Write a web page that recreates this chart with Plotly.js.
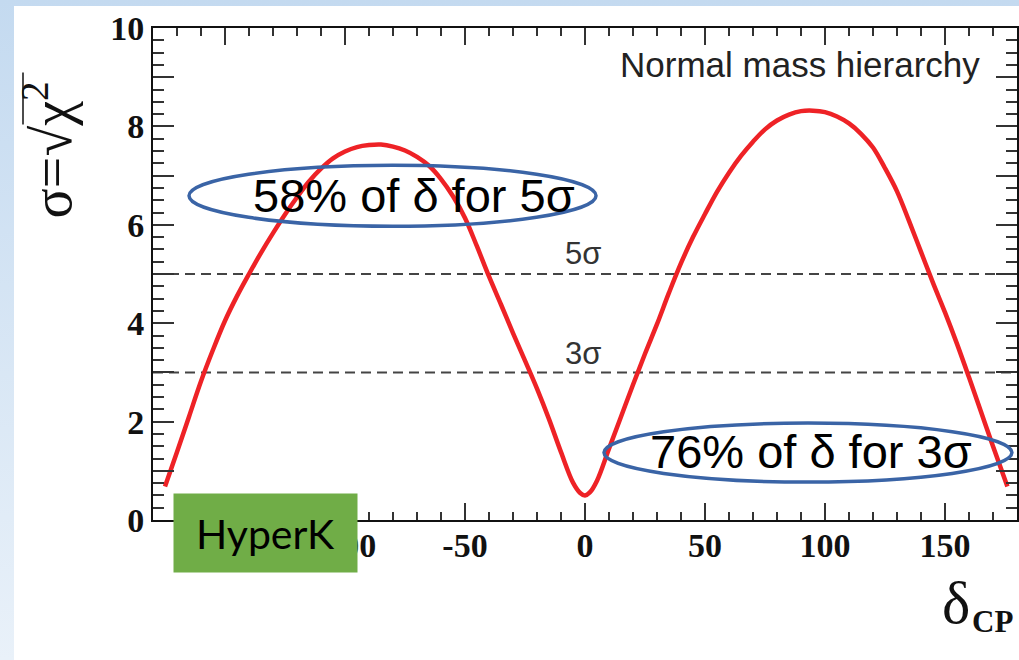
<!DOCTYPE html>
<html><head><meta charset="utf-8">
<script src="https://cdn.plot.ly/plotly-3.0.1.min.js"></script>
<style>
html,body{margin:0;padding:0;width:1019px;height:660px;overflow:hidden;background:linear-gradient(to bottom,#c4daf0,#e9f1f9);}
#chart{position:absolute;left:14px;top:6px;width:1005px;height:654px;background:#fff;}
</style></head><body><div id="chart"></div>
<script>
// Data
const deltaCP = [-175,-170,-165,-160,-155,-150,-145,-140,-135,-130,-125,-120,-115,-110,-105,-100,-95,-90,-85,-80,-75,-70,-65,-60,-55,-50,-45,-40,-35,-30,-25,-20,-15,-10,-5,-2,0,2,5,10,15,20,25,30,35,40,45,50,55,60,65,70,75,80,85,90,95,100,105,110,115,120,125,130,135,140,145,150,155,160,165,170,176];
const sigma   = [0.68,1.38,2.1,2.82,3.46,4.05,4.55,5.0,5.43,5.83,6.21,6.56,6.88,7.14,7.35,7.49,7.58,7.62,7.63,7.59,7.51,7.38,7.2,6.93,6.58,6.14,5.56,4.95,4.38,3.8,3.24,2.67,2.05,1.38,0.76,0.55,0.5,0.56,0.8,1.45,2.1,2.75,3.38,3.98,4.62,5.22,5.75,6.22,6.67,7.06,7.4,7.69,7.94,8.12,8.24,8.31,8.32,8.29,8.2,8.06,7.85,7.57,7.15,6.68,6.08,5.45,4.82,4.22,3.58,2.9,2.2,1.5,0.68];
const levels = [3, 5];
const levelLabels = ['3σ', '5σ'];
const xRange = [-180, 180];
const yRange = [0, 10];
const xTickVals = [-150, -100, -50, 0, 50, 100, 150];
const xTickText = ['-150', '-100', '-50', '0', '50', '100', '150'];
const yTickVals = [0, 1, 2, 3, 4, 5, 6, 7, 8, 9, 10];
const yTickText = ['0', ' ', '2', ' ', '4', ' ', '6', ' ', '8', ' ', '10'];
const hierarchyLabel = 'Normal mass hierarchy';
const note5 = '58% of δ for 5σ';
const note3 = '76% of δ for 3σ';
const expLabel = 'HyperK';

// page-pixel -> paper helpers (plot area spans page x 153..1017, y 27.5..520)
const PX0 = 153, PX1 = 1017, PY0 = 520, PY1 = 27.5;
const px = X => (X - PX0) / (PX1 - PX0);
const py = Y => (PY0 - Y) / (PY0 - PY1);

const traces = [];
levels.forEach(l => {
  traces.push({x: xRange, y: [l, l], mode: 'lines', line: {color: '#444', width: 2, dash: '10px,6px'}, hoverinfo: 'skip', showlegend: false});
});
traces.push({x: deltaCP, y: sigma, mode: 'lines', line: {color: '#ee2226', width: 4.5, shape: 'spline', smoothing: 1}, showlegend: false});

const serif = 'Liberation Serif, Times New Roman, serif';
const sans = 'Liberation Sans, Arial, sans-serif';

const annotations = [
  {xref: 'paper', yref: 'paper', x: px(800), y: py(64), text: hierarchyLabel, showarrow: false, xanchor: 'center', yanchor: 'middle', font: {family: sans, size: 35, color: '#222'}},
  {xref: 'paper', yref: 'paper', x: px(583), y: py(253), text: levelLabels[1], showarrow: false, xanchor: 'center', yanchor: 'middle', font: {family: sans, size: 31, color: '#333'}},
  {xref: 'paper', yref: 'paper', x: px(583), y: py(353), text: levelLabels[0], showarrow: false, xanchor: 'center', yanchor: 'middle', font: {family: sans, size: 31, color: '#333'}},
  {xref: 'paper', yref: 'paper', x: px(414), y: py(195), text: note5, showarrow: false, xanchor: 'center', yanchor: 'middle', font: {family: sans, size: 47, color: '#000'}},
  {xref: 'paper', yref: 'paper', x: px(811), y: py(451), text: note3, showarrow: false, xanchor: 'center', yanchor: 'middle', font: {family: sans, size: 47, color: '#000'}},
  {xref: 'paper', yref: 'paper', x: px(265.5), y: py(533), text: expLabel, showarrow: false, xanchor: 'center', yanchor: 'middle', width: 183, height: 78, borderpad: 0, bgcolor: '#70ad47', font: {family: 'Lato, sans-serif', size: 41, color: '#000'}},
  {xref: 'paper', yref: 'paper', x: px(48), y: py(150), text: 'σ=√χ<sup>2</sup>', textangle: -90, showarrow: false, xanchor: 'center', yanchor: 'middle', font: {family: serif, size: 56, color: '#111'}},
  {xref: 'paper', yref: 'paper', x: px(956), y: py(603), text: 'δ', showarrow: false, xanchor: 'center', yanchor: 'middle', font: {family: serif, size: 60, color: '#111'}},
  {xref: 'paper', yref: 'paper', x: px(992), y: py(622), text: 'CP', showarrow: false, xanchor: 'center', yanchor: 'middle', font: {family: serif, size: 31, color: '#111', weight: 'bold'}}
];

const shapes = [
  {type: 'circle', xref: 'x', yref: 'y', x0: -165, x1: 4.6, y0: 5.97, y1: 7.21, line: {color: '#3a64a6', width: 3.5}, layer: 'above'},
  {type: 'circle', xref: 'x', yref: 'y', x0: 7.9, x1: 177.9, y0: 0.77, y1: 1.97, line: {color: '#3a64a6', width: 3.5}, layer: 'above'},
  {type: 'line', xref: 'paper', yref: 'paper', x0: px(23), x1: px(23), y0: py(72), y1: py(124), line: {color: '#111', width: 1.5}, layer: 'above'}
];

const layout = {
  width: 1005, height: 654,
  margin: {l: 139, r: 2, t: 21.5, b: 140, pad: 0},
  paper_bgcolor: '#fff', plot_bgcolor: '#fff',
  showlegend: false,
  xaxis: {
    range: xRange, showgrid: false, zeroline: false,
    showline: true, linecolor: '#111', linewidth: 2, mirror: 'allticks',
    ticks: 'inside', ticklen: 17, tickwidth: 2, tickcolor: '#333',
    tickmode: 'array', tickvals: xTickVals, ticktext: xTickText, ticklabelstandoff: -6,
    tickfont: {family: serif, size: 34, color: '#111', weight: 'bold'},
    minor: {dtick: 10, tick0: 0, ticks: 'inside', ticklen: 8, tickwidth: 2, tickcolor: '#333', showgrid: false}
  },
  yaxis: {
    range: yRange, showgrid: false, zeroline: false,
    showline: true, linecolor: '#111', linewidth: 2, mirror: 'allticks',
    ticks: 'inside', ticklen: 21, tickwidth: 2, tickcolor: '#333',
    tickmode: 'array', tickvals: yTickVals, ticktext: yTickText,
    tickfont: {family: serif, size: 34, color: '#111', weight: 'bold'},
    minor: {dtick: 0.25, tick0: 0, ticks: 'inside', ticklen: 11, tickwidth: 2, tickcolor: '#333', showgrid: false}
  },
  annotations: annotations,
  shapes: shapes
};

Plotly.newPlot('chart', traces, layout, {displayModeBar: false, staticPlot: true});
</script></body></html>
